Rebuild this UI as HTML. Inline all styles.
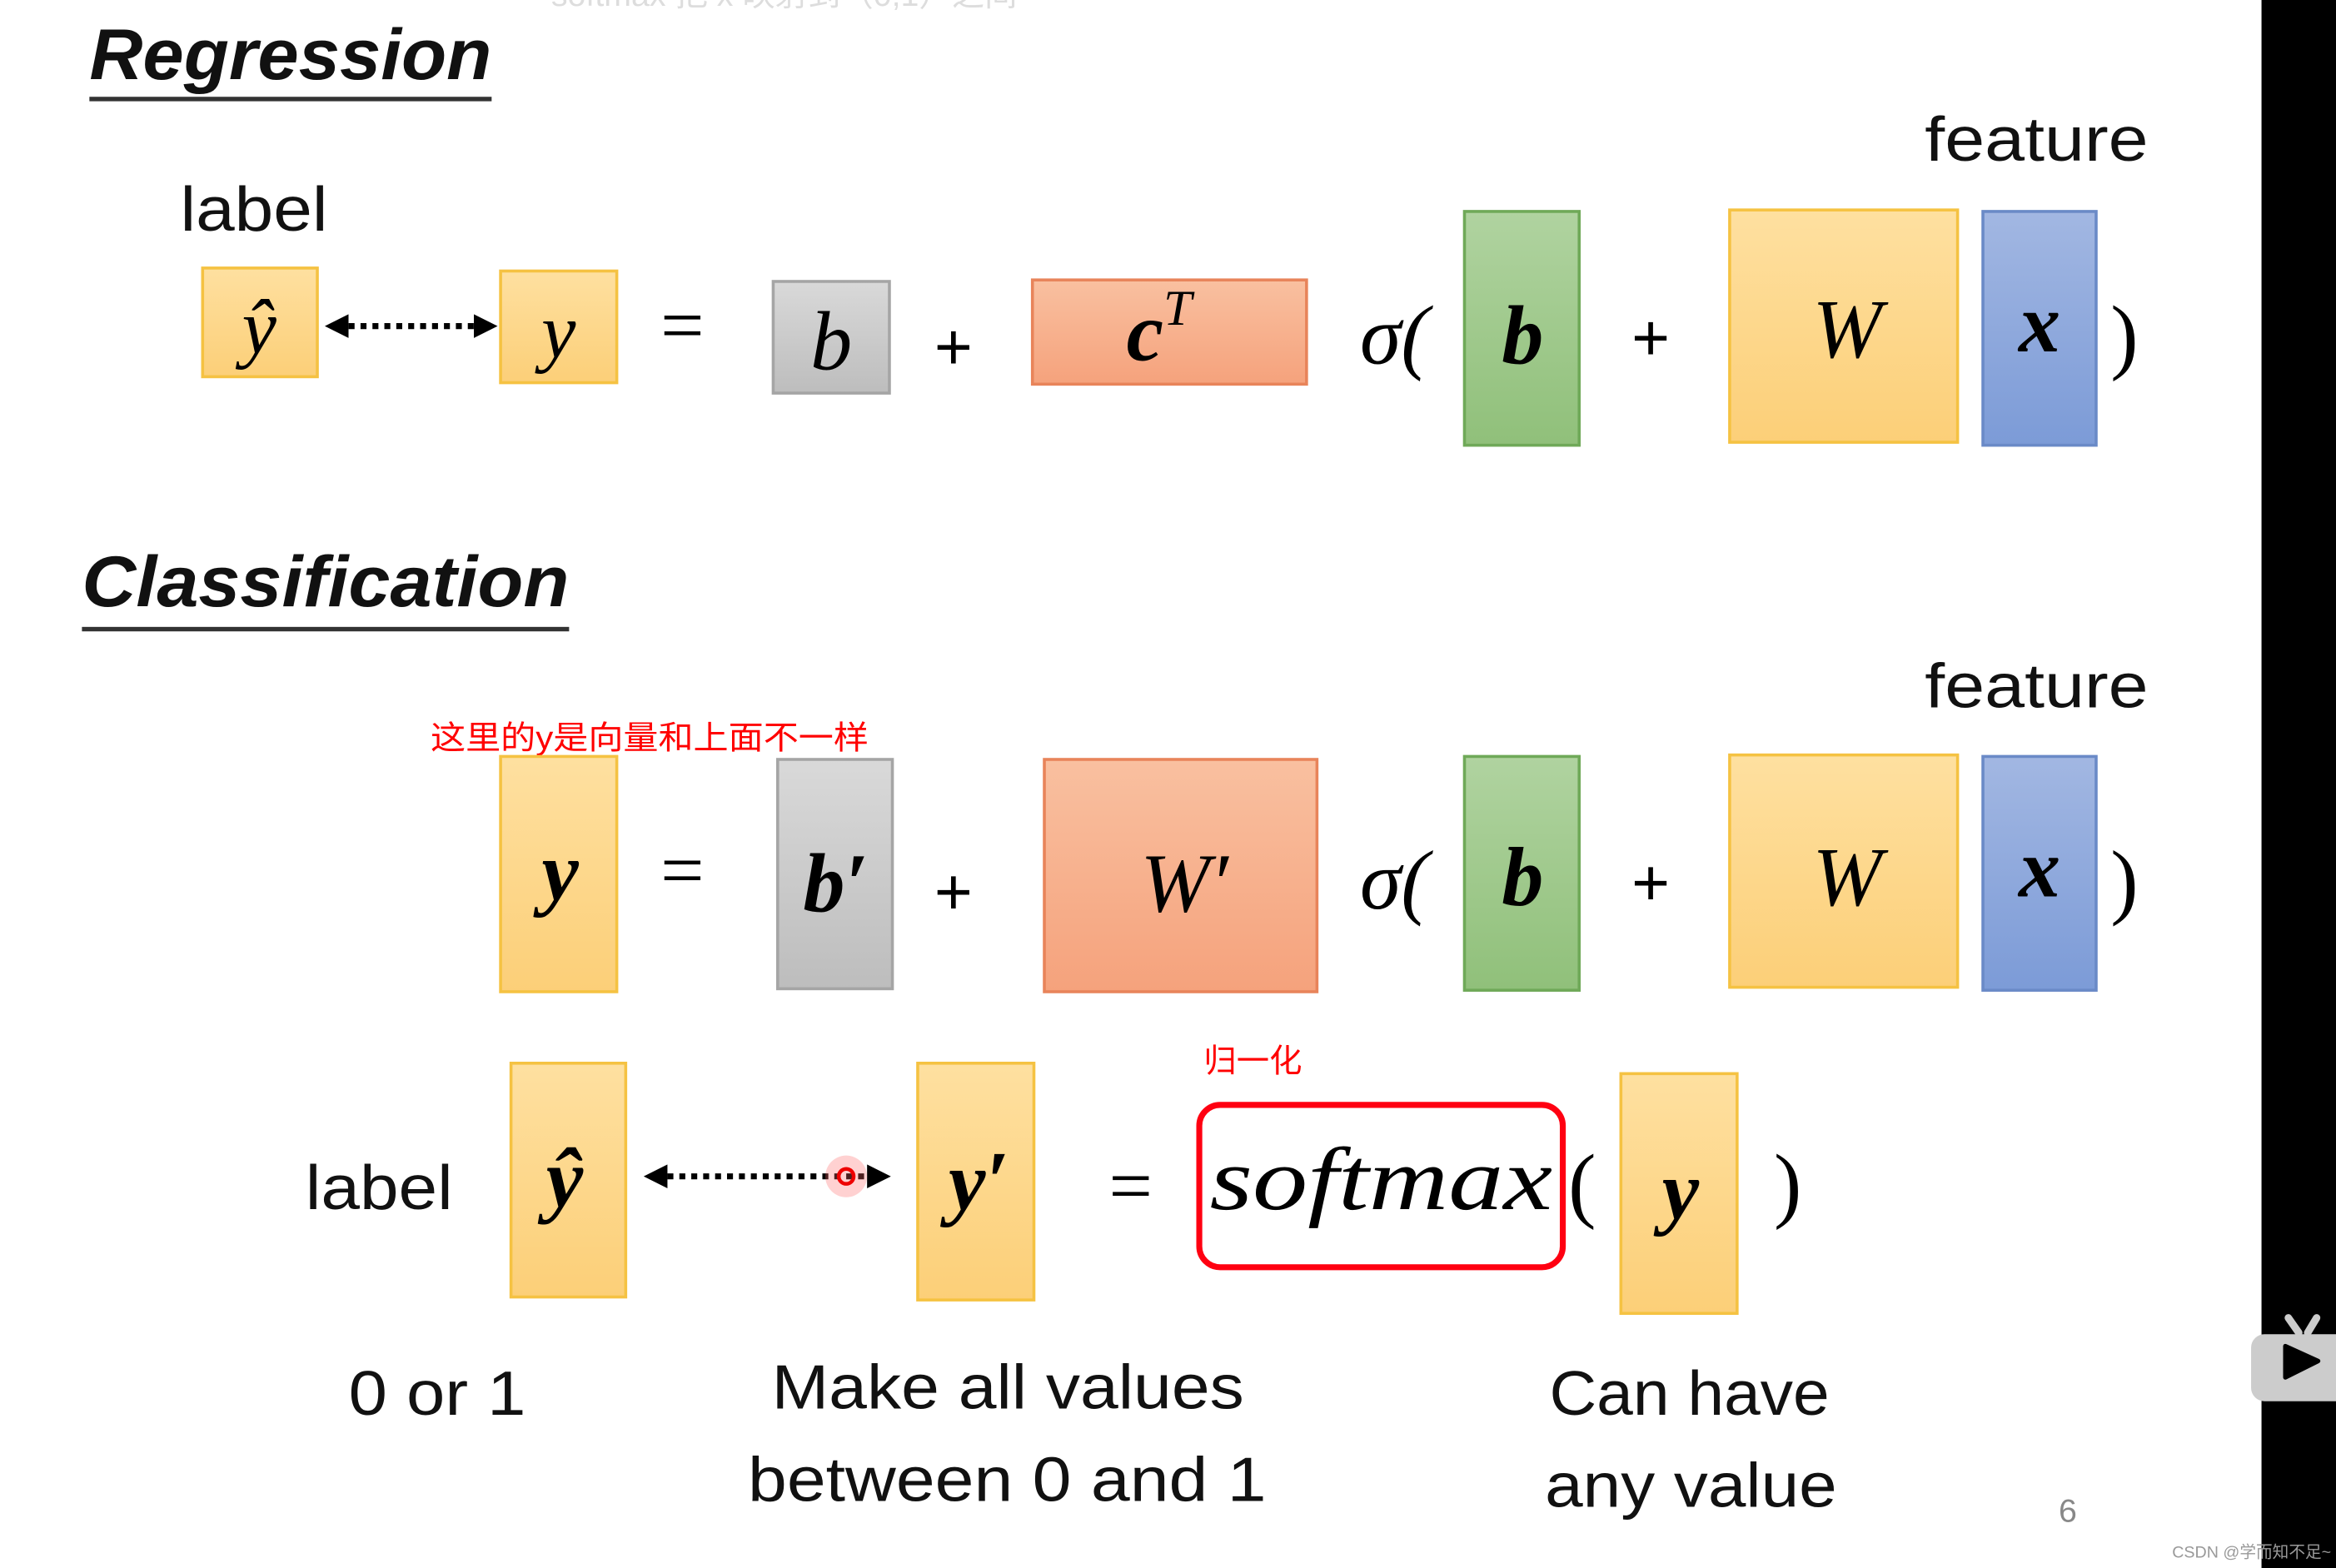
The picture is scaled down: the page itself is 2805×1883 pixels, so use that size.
<!DOCTYPE html>
<html><head><meta charset="utf-8"><style>
html,body{margin:0;padding:0;background:#fff;}
svg{display:block;}
.s{font-family:"Liberation Sans","Noto Sans CJK SC",sans-serif;}
.m{font-family:"Liberation Serif",serif;font-style:italic;}
.mb{font-family:"Liberation Serif",serif;font-style:italic;font-weight:bold;}
.r{font-family:"Liberation Serif",serif;}
</style></head><body>
<svg width="2805" height="1883" viewBox="0 0 1568 1053" preserveAspectRatio="none" xmlns="http://www.w3.org/2000/svg">
<defs>
<linearGradient id="yel" x1="0" y1="0" x2="0" y2="1"><stop offset="0" stop-color="#fee0a0"/><stop offset="1" stop-color="#fccf78"/></linearGradient>
<linearGradient id="gry" x1="0" y1="0" x2="0" y2="1"><stop offset="0" stop-color="#d9d9d9"/><stop offset="1" stop-color="#bdbdbd"/></linearGradient>
<linearGradient id="org" x1="0" y1="0" x2="0" y2="1"><stop offset="0" stop-color="#f9c0a0"/><stop offset="1" stop-color="#f5a27c"/></linearGradient>
<linearGradient id="grn" x1="0" y1="0" x2="0" y2="1"><stop offset="0" stop-color="#b0d3a0"/><stop offset="1" stop-color="#90c07a"/></linearGradient>
<linearGradient id="blu" x1="0" y1="0" x2="0" y2="1"><stop offset="0" stop-color="#a2b7e2"/><stop offset="1" stop-color="#7c9bd7"/></linearGradient>
<marker id="ah" viewBox="0 0 10 10" refX="5" refY="5" markerWidth="4" markerHeight="4" orient="auto-start-reverse"><path d="M0,0 L10,5 L0,10 z" fill="#000"/></marker>
</defs>
<rect width="1568" height="1053" fill="#fff"/>
<text x="370" y="4" class="s" font-size="22" fill="#ddd">softmax 把 x 映射到（0,1）之间</text>

<text x="60" y="53" class="s" font-size="48" font-weight="bold" font-style="italic" fill="#111" textLength="270" lengthAdjust="spacingAndGlyphs">Regression</text>
<rect x="60" y="65" width="270" height="3" fill="#333"/>
<text x="1292" y="108" class="s" font-size="42" fill="#111" textLength="150" lengthAdjust="spacingAndGlyphs">feature</text>
<text x="121" y="155" class="s" font-size="42" fill="#111" textLength="99" lengthAdjust="spacingAndGlyphs">label</text>

<rect x="136" y="180" width="77" height="73" fill="url(#yel)" stroke="#f5c242" stroke-width="2"/>
<text x="174" y="237" class="m" font-size="52" text-anchor="middle">ŷ</text>
<line x1="226" y1="219" x2="326" y2="219" stroke="#000" stroke-width="4" stroke-dasharray="4,4" marker-start="url(#ah)" marker-end="url(#ah)"/>
<rect x="336" y="182" width="78" height="75" fill="url(#yel)" stroke="#f5c242" stroke-width="2"/>
<text x="375" y="240" class="m" font-size="52" text-anchor="middle">y</text>
<text x="458" y="236" class="r" font-size="52" text-anchor="middle">=</text>
<rect x="519" y="189" width="78" height="75" fill="url(#gry)" stroke="#a5a5a5" stroke-width="2"/>
<text x="558" y="248" class="m" font-size="56" text-anchor="middle">b</text>
<text x="640" y="248" class="s" font-size="44" text-anchor="middle">+</text>
<rect x="693" y="188" width="184" height="70" fill="url(#org)" stroke="#e8845a" stroke-width="2"/>
<text x="778" y="242" class="mb" font-size="56" text-anchor="middle">c<tspan font-size="34" dy="-24" font-weight="normal">T</tspan></text>
<text x="936" y="244" class="m" font-size="56" text-anchor="middle">σ(</text>
<rect x="983" y="142" width="77" height="157" fill="url(#grn)" stroke="#6fa958" stroke-width="2"/>
<text x="1022" y="244" class="mb" font-size="56" text-anchor="middle">b</text>
<text x="1108" y="242" class="s" font-size="44" text-anchor="middle">+</text>
<rect x="1161" y="141" width="153" height="156" fill="url(#yel)" stroke="#f5c242" stroke-width="2"/>
<text x="1240" y="240" class="m" font-size="56" text-anchor="middle">W</text>
<rect x="1331" y="142" width="76" height="157" fill="url(#blu)" stroke="#6a8ac7" stroke-width="2"/>
<text x="1369" y="236" class="mb" font-size="56" text-anchor="middle">x</text>
<text x="1426" y="244" class="r" font-size="56" text-anchor="middle">)</text>

<text x="55" y="407" class="s" font-size="48" font-weight="bold" font-style="italic" fill="#111" textLength="327" lengthAdjust="spacingAndGlyphs">Classification</text>
<rect x="55" y="421" width="327" height="3" fill="#333"/>
<text x="1292" y="475" class="s" font-size="42" fill="#111" textLength="150" lengthAdjust="spacingAndGlyphs">feature</text>
<text x="289" y="503" class="s" font-size="22" fill="#f00" textLength="294" lengthAdjust="spacingAndGlyphs">这里的y是向量和上面不一样</text>

<rect x="336" y="508" width="78" height="158" fill="url(#yel)" stroke="#f5c242" stroke-width="2"/>
<text x="376" y="604" class="mb" font-size="56" text-anchor="middle">y</text>
<text x="458" y="602" class="r" font-size="52" text-anchor="middle">=</text>
<rect x="522" y="510" width="77" height="154" fill="url(#gry)" stroke="#a5a5a5" stroke-width="2"/>
<text x="561" y="612" class="mb" font-size="56" text-anchor="middle">b′</text>
<text x="640" y="614" class="s" font-size="44" text-anchor="middle">+</text>
<rect x="701" y="510" width="183" height="156" fill="url(#org)" stroke="#e8845a" stroke-width="2"/>
<text x="795" y="612" class="m" font-size="56" text-anchor="middle">W′</text>
<text x="936" y="610" class="m" font-size="56" text-anchor="middle">σ(</text>
<rect x="983" y="508" width="77" height="157" fill="url(#grn)" stroke="#6fa958" stroke-width="2"/>
<text x="1022" y="608" class="mb" font-size="56" text-anchor="middle">b</text>
<text x="1108" y="608" class="s" font-size="44" text-anchor="middle">+</text>
<rect x="1161" y="507" width="153" height="156" fill="url(#yel)" stroke="#f5c242" stroke-width="2"/>
<text x="1240" y="608" class="m" font-size="56" text-anchor="middle">W</text>
<rect x="1331" y="508" width="76" height="157" fill="url(#blu)" stroke="#6a8ac7" stroke-width="2"/>
<text x="1369" y="602" class="mb" font-size="56" text-anchor="middle">x</text>
<text x="1426" y="610" class="r" font-size="56" text-anchor="middle">)</text>

<text x="205" y="812" class="s" font-size="42" fill="#111" textLength="99" lengthAdjust="spacingAndGlyphs">label</text>
<rect x="343" y="714" width="77" height="157" fill="url(#yel)" stroke="#f5c242" stroke-width="2"/>
<text x="379" y="810" class="mb" font-size="56" text-anchor="middle">ŷ</text>
<line x1="440" y1="790" x2="590" y2="790" stroke="#000" stroke-width="4" stroke-dasharray="4,4" marker-start="url(#ah)" marker-end="url(#ah)"/>
<circle cx="568" cy="790" r="14" fill="#f66" opacity="0.3"/>
<circle cx="568" cy="790" r="5" fill="none" stroke="#e00" stroke-width="2.5"/>
<rect x="616" y="714" width="78" height="159" fill="url(#yel)" stroke="#f5c242" stroke-width="2"/>
<text x="657" y="812" class="mb" font-size="56" text-anchor="middle">y′</text>
<text x="759" y="814" class="r" font-size="52" text-anchor="middle">=</text>
<text x="808" y="720" class="s" font-size="22" fill="#f00">归一化</text>
<rect x="805" y="742" width="244" height="109" rx="14" fill="none" stroke="#f01" stroke-width="4"/>
<text x="812" y="812" class="m" font-size="60" textLength="230" lengthAdjust="spacingAndGlyphs">softmax</text>
<text x="1062" y="814" class="r" font-size="56" text-anchor="middle">(</text>
<rect x="1088" y="721" width="78" height="161" fill="url(#yel)" stroke="#f5c242" stroke-width="2"/>
<text x="1128" y="818" class="mb" font-size="56" text-anchor="middle">y</text>
<text x="1200" y="814" class="r" font-size="56" text-anchor="middle">)</text>

<text x="234" y="950" class="s" font-size="42" fill="#111" textLength="119" lengthAdjust="spacingAndGlyphs">0 or 1</text>
<text x="518" y="946" class="s" font-size="42" fill="#111" textLength="317" lengthAdjust="spacingAndGlyphs">Make all values</text>
<text x="502" y="1008" class="s" font-size="42" fill="#111" textLength="348" lengthAdjust="spacingAndGlyphs">between 0 and 1</text>
<text x="1040" y="950" class="s" font-size="42" fill="#111" textLength="188" lengthAdjust="spacingAndGlyphs">Can have</text>
<text x="1037" y="1012" class="s" font-size="42" fill="#111" textLength="196" lengthAdjust="spacingAndGlyphs">any value</text>
<text x="1388" y="1022" class="s" font-size="22" text-anchor="middle" fill="#888">6</text>

<rect x="1518" y="0" width="50" height="1053" fill="#000"/>
<line x1="1536" y1="885" x2="1543" y2="895" stroke="#ccc" stroke-width="5" stroke-linecap="round"/>
<line x1="1555" y1="885" x2="1549" y2="895" stroke="#ccc" stroke-width="5" stroke-linecap="round"/>
<rect x="1511" y="896" width="70" height="45" rx="9" fill="#ccc"/>
<path d="M1534,904 L1534,925 L1556,914 z" fill="#000" stroke="#000" stroke-width="3" stroke-linejoin="round"/>
<text x="1458" y="1046" class="s" font-size="11" fill="#999">CSDN @学而知不足~</text>
</svg>
</body></html>
